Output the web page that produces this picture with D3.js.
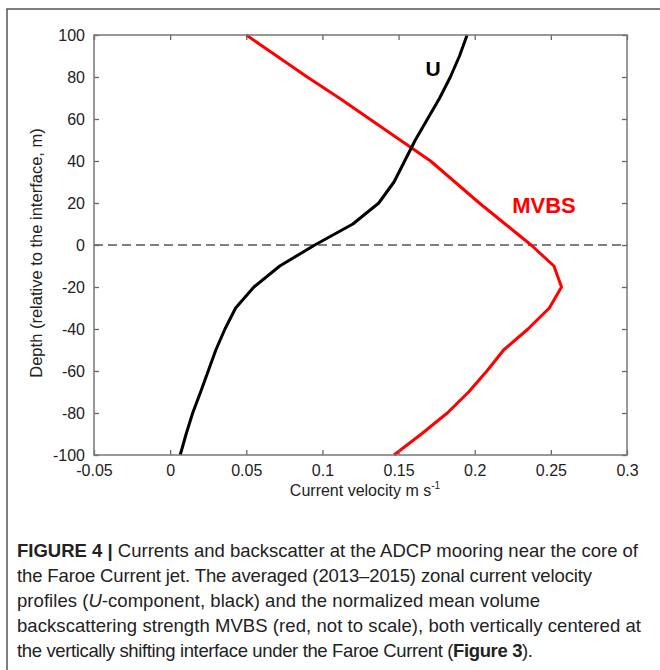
<!DOCTYPE html>
<html>
<head>
<meta charset="utf-8">
<script src="https://cdn.jsdelivr.net/npm/d3@7"></script>
<style>
  body { margin: 0; background: #fff; }
  svg { display: block; }
</style>
</head>
<body>
<svg width="660" height="670"></svg>
<script>
// depth levels (m, relative to the interface)
let depths = [100, 90, 80, 70, 60, 50, 40, 30, 20, 10, 0, -10, -20, -30, -40, -50, -60, -70, -80, -90, -100];
// zonal velocity U (m/s)
let uVals = [0.195, 0.190, 0.184, 0.177, 0.169, 0.161, 0.154, 0.147, 0.137, 0.120, 0.095, 0.072, 0.055, 0.043, 0.036, 0.030, 0.025, 0.020, 0.0148, 0.0105, 0.0066];
// normalized MVBS (not to scale)
let mvbsVals = [0.050, 0.070, 0.090, 0.111, 0.131, 0.151, 0.171, 0.187, 0.203, 0.220, 0.237, 0.252, 0.257, 0.249, 0.235, 0.219, 0.208, 0.196, 0.182, 0.165, 0.147];
let xTicks = [-0.05, 0, 0.05, 0.1, 0.15, 0.2, 0.25, 0.3];
let yTicks = [-100, -80, -60, -40, -20, 0, 20, 40, 60, 80, 100];

let captionLines = [
    [["FIGURE 4 | ", "b"], ["Currents and backscatter at the ADCP mooring near the core of", ""]],
    [["the Faroe Current jet. The averaged (2013\u20132015) zonal current velocity", ""]],
    [["profiles (", ""], ["U", "i"], ["-component, black) and the normalized mean volume", ""]],
    [["backscattering strength MVBS (red, not to scale), both vertically centered at", ""]],
    [["the vertically shifting interface under the Faroe Current (", ""], ["Figure 3", "b"], [").", ""]]
];
// right end of each caption line
let captionEnds = [638, 592, 540, 641, 533];

let svg = d3.select("svg");
let font = "'Liberation Sans', Arial, sans-serif";

// outer frame (top and left only)
svg.append("path")
    .attr("d", "M7,670V9H660")
    .attr("fill", "none")
    .attr("stroke", "#555")
    .attr("stroke-width", 1.5);

let pLeft = 94, pRight = 627, pTop = 35, pBottom = 455;

let x = d3.scaleLinear().domain([-0.05, 0.3]).range([pLeft, pRight]);
let y = d3.scaleLinear().domain([-100, 100]).range([pBottom, pTop]);

let g = svg.append("g");

// zero line
g.append("line")
    .attr("x1", pLeft).attr("x2", pRight)
    .attr("y1", y(0)).attr("y2", y(0))
    .attr("stroke", "#555")
    .attr("stroke-width", 1.3)
    .attr("stroke-dasharray", "9,5");

let line = d3.line()
    .x(function (d) { return x(d[0]); })
    .y(function (d) { return y(d[1]); });

g.append("path")
    .datum(d3.zip(mvbsVals, depths))
    .attr("d", line)
    .attr("fill", "none")
    .attr("stroke", "#ff0000")
    .attr("stroke-width", 3)
    .attr("stroke-linejoin", "round");

g.append("path")
    .datum(d3.zip(uVals, depths))
    .attr("d", line)
    .attr("fill", "none")
    .attr("stroke", "#000")
    .attr("stroke-width", 3)
    .attr("stroke-linejoin", "round");

// axes, ticks pointing inward like matlab
function styleAxis(sel) {
    sel.select(".domain").remove();
    sel.selectAll(".tick line").attr("stroke", "#666").attr("stroke-width", 1.3);
    sel.selectAll(".tick text")
        .attr("fill", "#222")
        .style("font-family", font)
        .style("font-size", "16px");
}

let fmt = function (d) { return String(d); };

g.append("g")
    .attr("transform", "translate(0," + pBottom + ")")
    .call(d3.axisBottom(x).tickValues(xTicks).tickFormat(fmt).tickSizeInner(-5).tickPadding(10))
    .call(styleAxis);
g.append("g")
    .attr("transform", "translate(0," + pTop + ")")
    .call(d3.axisTop(x).tickValues(xTicks).tickFormat("").tickSizeInner(-5))
    .call(styleAxis);
g.append("g")
    .attr("transform", "translate(" + pLeft + ",0)")
    .call(d3.axisLeft(y).tickValues(yTicks).tickFormat(fmt).tickSizeInner(-5).tickPadding(9))
    .call(styleAxis);
g.append("g")
    .attr("transform", "translate(" + pRight + ",0)")
    .call(d3.axisRight(y).tickValues(yTicks).tickFormat("").tickSizeInner(-5))
    .call(styleAxis);

g.append("rect")
    .attr("x", pLeft).attr("y", pTop)
    .attr("width", pRight - pLeft).attr("height", pBottom - pTop)
    .attr("fill", "none")
    .attr("stroke", "#777")
    .attr("stroke-width", 1.5);

// series labels
g.append("text")
    .attr("x", 433).attr("y", 76)
    .attr("text-anchor", "middle")
    .style("font-family", font).style("font-size", "21px").style("font-weight", "bold")
    .attr("fill", "#000")
    .text("U");
g.append("text")
    .attr("x", 544).attr("y", 213)
    .attr("text-anchor", "middle")
    .style("font-family", font).style("font-size", "22px").style("font-weight", "bold")
    .attr("fill", "#ff0000")
    .text("MVBS");

// axis titles
let xl = g.append("text")
    .attr("x", 365).attr("y", 496)
    .attr("text-anchor", "middle")
    .style("font-family", font).style("font-size", "16px")
    .attr("fill", "#222");
xl.append("tspan").text("Current velocity m s");
xl.append("tspan").attr("dy", -7).style("font-size", "10px").text("-1");

g.append("text")
    .attr("transform", "translate(42,253) rotate(-90)")
    .attr("text-anchor", "middle")
    .style("font-family", font).style("font-size", "16.5px")
    .attr("fill", "#222")
    .text("Depth (relative to the interface, m)");

// caption
let capX = 17;
let cap = svg.append("g")
    .style("font-family", font)
    .style("font-size", "18.5px")
    .attr("fill", "#222");
captionLines.forEach(function (parts, i) {
    let t = cap.append("text")
        .attr("x", capX)
        .attr("y", 557 + i * 24.9)
        .attr("textLength", captionEnds[i] - capX)
        .attr("lengthAdjust", "spacing");
    parts.forEach(function (p) {
        let s = t.append("tspan").text(p[0]);
        if (p[1] == "b") s.style("font-weight", "bold");
        if (p[1] == "i") s.style("font-style", "italic");
    });
});
</script>
</body>
</html>
